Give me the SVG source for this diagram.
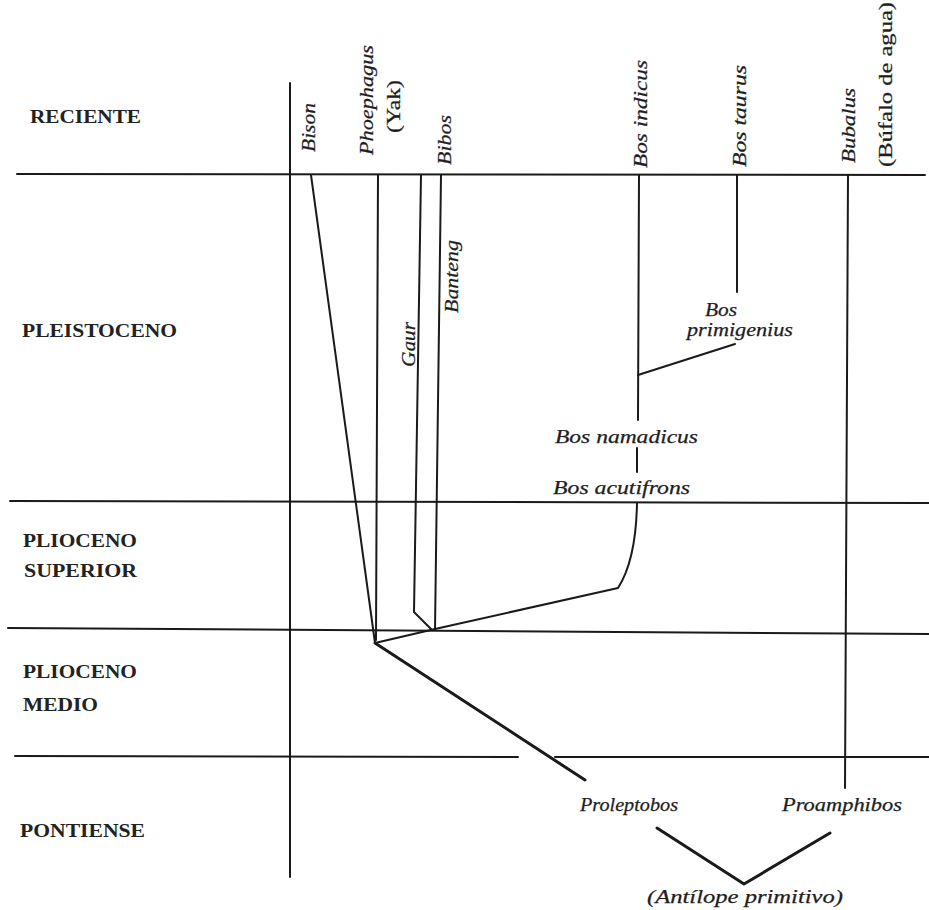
<svg xmlns="http://www.w3.org/2000/svg" width="929" height="910" viewBox="0 0 929 910">
<style>
.bg{fill:#ffffff}
.ln{stroke:#1a1a1a;stroke-width:2;fill:none;stroke-linecap:round;stroke-linejoin:round}
.thk{stroke:#1a1a1a;stroke-width:3;fill:none;stroke-linecap:round;stroke-linejoin:round}
.era{font-family:"Liberation Serif","DejaVu Serif",serif;font-weight:bold;font-size:18px;fill:#222}
.sp{font-family:"Liberation Serif","DejaVu Serif",serif;font-style:italic;font-size:19px;fill:#1e1e1e;stroke:#1e1e1e;stroke-width:0.25}
.up{font-family:"Liberation Serif","DejaVu Serif",serif;font-size:19px;fill:#1e1e1e;stroke:#1e1e1e;stroke-width:0.25}
</style>
<rect class="bg" x="0" y="0" width="929" height="910"/>

<g id="grid">
<line class="ln" x1="17" y1="174" x2="925" y2="175"/>
<line class="ln" x1="10" y1="501" x2="929" y2="503"/>
<line class="ln" x1="8" y1="628" x2="929" y2="634"/>
<line class="ln" x1="15" y1="756" x2="518" y2="757"/>
<line class="ln" x1="555" y1="757" x2="929" y2="757"/>
<line class="ln" x1="290" y1="83" x2="290" y2="877"/>
</g>

<g id="eras">
<text class="era" x="30" y="123" textLength="111" lengthAdjust="spacingAndGlyphs">RECIENTE</text>
<text class="era" x="22" y="337" textLength="155" lengthAdjust="spacingAndGlyphs">PLEISTOCENO</text>
<text class="era" x="23" y="547" textLength="114" lengthAdjust="spacingAndGlyphs">PLIOCENO</text>
<text class="era" x="24" y="577" textLength="113" lengthAdjust="spacingAndGlyphs">SUPERIOR</text>
<text class="era" x="23" y="678" textLength="114" lengthAdjust="spacingAndGlyphs">PLIOCENO</text>
<text class="era" x="23" y="711" textLength="75" lengthAdjust="spacingAndGlyphs">MEDIO</text>
<text class="era" x="20" y="837" textLength="125" lengthAdjust="spacingAndGlyphs">PONTIENSE</text>
</g>

<g id="connectors">
<polyline class="ln" points="311,175 375,643"/>
<polyline class="ln" points="378,175 376,640"/>
<polyline class="ln" points="421,175 414,612 432,630"/>
<polyline class="ln" points="441,175 435,630"/>
<polyline class="ln" points="375,643 435,629"/>
<path class="ln" d="M435,629 L618,588 Q636,560 637,503"/>
<line class="ln" x1="637" y1="448" x2="637" y2="472"/>
<line class="ln" x1="639" y1="175" x2="638" y2="420"/>
<line class="ln" x1="638" y1="375" x2="735" y2="344"/>
<line class="ln" x1="737" y1="175" x2="737" y2="292"/>
<line class="ln" x1="848" y1="175" x2="845" y2="788"/>
<line class="thk" x1="375" y1="643" x2="585" y2="780"/>
<polyline class="thk" points="657,828 744,884 830,833"/>
</g>

<g id="bison"><text class="sp" transform="translate(315,152) rotate(-90)" textLength="49" lengthAdjust="spacingAndGlyphs">Bison</text></g>
<g id="phoephagus">
<text class="sp" transform="translate(373,155) rotate(-90)" textLength="110" lengthAdjust="spacingAndGlyphs">Phoephagus</text>
<text class="up" transform="translate(400,133) rotate(-90)" textLength="53" lengthAdjust="spacingAndGlyphs">(Yak)</text>
</g>
<g id="bibos"><text class="sp" transform="translate(451,165) rotate(-90)" textLength="50" lengthAdjust="spacingAndGlyphs">Bibos</text></g>
<g id="gaur"><text class="sp" transform="translate(415,367) rotate(-90)" textLength="45" lengthAdjust="spacingAndGlyphs">Gaur</text></g>
<g id="banteng"><text class="sp" transform="translate(458,313) rotate(-90)" textLength="73" lengthAdjust="spacingAndGlyphs">Banteng</text></g>
<g id="bos-indicus"><text class="sp" transform="translate(647,168) rotate(-90)" textLength="108" lengthAdjust="spacingAndGlyphs">Bos  indicus</text></g>
<g id="bos-taurus"><text class="sp" transform="translate(746,167) rotate(-90)" textLength="102" lengthAdjust="spacingAndGlyphs">Bos  taurus</text></g>
<g id="bubalus">
<text class="sp" transform="translate(855,163) rotate(-90)" textLength="75" lengthAdjust="spacingAndGlyphs">Bubalus</text>
<text class="up" transform="translate(892,167) rotate(-90)" textLength="165" lengthAdjust="spacingAndGlyphs">(Búfalo  de  agua)</text>
</g>
<g id="bos-primigenius">
<text class="sp" x="705" y="316" textLength="32" lengthAdjust="spacingAndGlyphs">Bos</text>
<text class="sp" x="687" y="336" textLength="106" lengthAdjust="spacingAndGlyphs">primigenius</text>
</g>
<g id="bos-namadicus"><text class="sp" x="555" y="443" textLength="143" lengthAdjust="spacingAndGlyphs">Bos  namadicus</text></g>
<g id="bos-acutifrons"><text class="sp" x="553" y="494" textLength="137" lengthAdjust="spacingAndGlyphs">Bos  acutifrons</text></g>
<g id="proleptobos"><text class="sp" x="580" y="811" textLength="98" lengthAdjust="spacingAndGlyphs">Proleptobos</text></g>
<g id="proamphibos"><text class="sp" x="782" y="811" textLength="120" lengthAdjust="spacingAndGlyphs">Proamphibos</text></g>
<g id="antilope"><text class="sp" x="647" y="903" textLength="196" lengthAdjust="spacingAndGlyphs">(Antílope  primitivo)</text></g>
</svg>
